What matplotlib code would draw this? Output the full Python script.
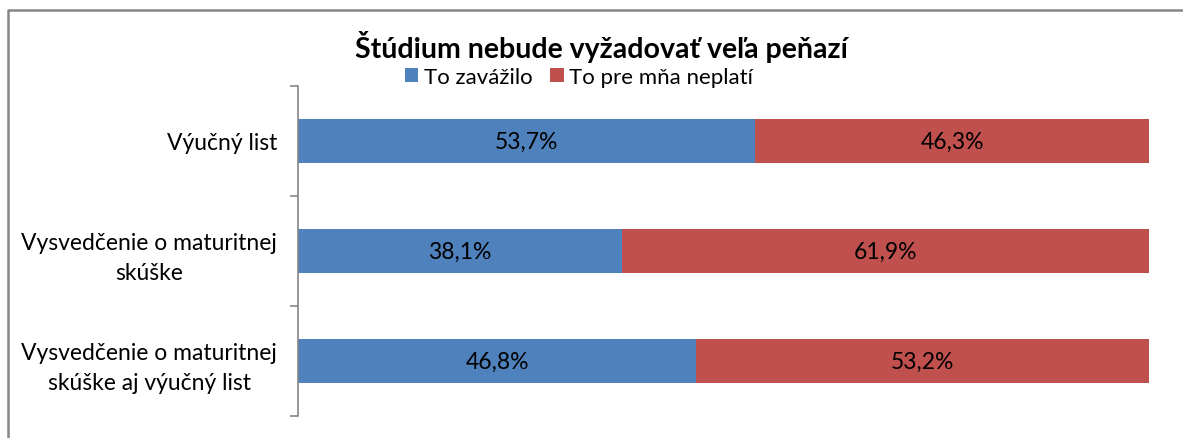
import numpy as np
import matplotlib.pyplot as plt
from matplotlib.lines import Line2D

# ── Data ─────────────────────────────────────────────────────────────────────
categories = [
    "Výučný list",
    "Vysvedčenie o maturitnej\nskúške",
    "Vysvedčenie o maturitnej\nskúške aj výučný list",
]
zavazilo = [53.7, 38.1, 46.8]
neplati = [46.3, 61.9, 53.2]
series_names = ["To zavážilo", "To pre mňa neplatí"]
title = "Štúdium nebude vyžadovať veľa peňazí"

BLUE = "#4F81BD"
RED = "#C0504D"

plt.rcParams["font.family"] = ["Lato", "DejaVu Sans"]

fig = plt.figure(figsize=(11.83, 4.39), dpi=100)
ax = fig.add_axes([298 / 1183, 1 - 417 / 439, (1149 - 298) / 1183, (417 - 87) / 439])

y = np.arange(len(categories))
h = 0.4
b1 = ax.barh(y, zavazilo, h, color=BLUE, label=series_names[0])
b2 = ax.barh(y, neplati, h, left=zavazilo, color=RED, label=series_names[1])

for bars, vals, lefts in [(b1, zavazilo, [0] * 3), (b2, neplati, zavazilo)]:
    for yi, v, l in zip(y, vals, lefts):
        ax.text(l + v / 2, yi, f"{v:.1f}".replace(".", ",") + "%",
                ha="center", va="center", fontsize=16.5, color="black")

ax.set_xlim(0, 100)
ax.set_ylim(len(categories) - 0.5, -0.5)

ax.set_xticks([])
ax.set_yticks(y)
ax.set_yticklabels(categories, fontsize=16.5, linespacing=1.55)
for lbl in ax.get_yticklabels():
    lbl.set_multialignment("center")
ax.tick_params(axis="y", which="major", length=0, pad=15)
ax.set_yticks(np.arange(-0.5, len(categories)), minor=True)
ax.tick_params(axis="y", which="minor", length=6, color="#868686", width=1.2)

for s in ["top", "right", "bottom"]:
    ax.spines[s].set_visible(False)
ax.spines["left"].set_color("#868686")
ax.spines["left"].set_linewidth(1.2)

fig.text(601 / 1183, 1 - 47 / 439, title, ha="center", va="center",
         fontsize=20.5, fontweight="bold")
fig.legend(handles=[b1, b2], labels=series_names, loc="center",
           bbox_to_anchor=(579 / 1183, 1 - 78 / 439), ncol=2, frameon=False,
           fontsize=16, handlelength=0.6, handleheight=0.6, handletextpad=0.25,
           columnspacing=0.8, borderpad=0)

# chart-area border (only top and left edges visible in crop)
fig.add_artist(Line2D([8 / 1183, 8 / 1183, 1], [0, 1 - 11 / 439, 1 - 11 / 439],
                      transform=fig.transFigure, color="#868686", lw=1.8))

fig.savefig("out.png", dpi=100)
